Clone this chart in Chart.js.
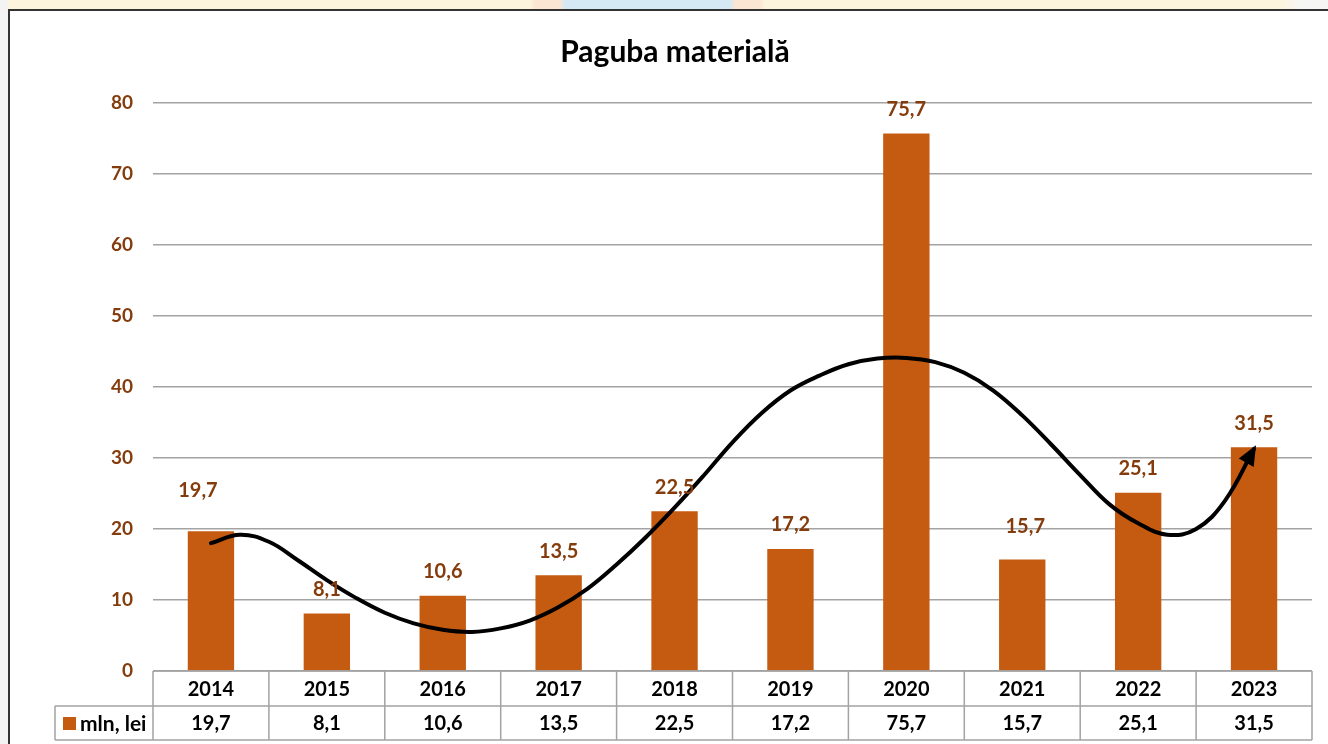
<!DOCTYPE html>
<html>
<head>
<meta charset="utf-8">
<title>Paguba materială</title>
<script src="https://cdn.jsdelivr.net/npm/chart.js@4/dist/chart.umd.min.js"></script>
<style>
  html, body { margin: 0; padding: 0; }
  body {
    width: 1328px; height: 744px; overflow: hidden; position: relative;
    background:
      linear-gradient(to right, #f3f3f3 0, #f3f3f3 8px, transparent 8px),
      linear-gradient(to right, #fcf4dc 0, #fcf4dc 530px, #fbe6d4 535px, #fbe6d4 560px,
        #d5e9f5 565px, #d5e9f5 730px, #fbe6d4 735px, #fbe6d4 760px, #fcf4dc 765px,
        #fcf4dc 1280px, #f6f6f4 1300px);
  }
  .frame {
    position: absolute; left: 8px; top: 9px; width: 1340px; height: 740px;
    border-left: 2px solid #333; border-top: 2px solid #333; background: #fff;
  }
  .box { position: absolute; left: 0; top: 0; width: 1330px; height: 733px; }
</style>
</head>
<body>
<div class="frame"><div class="box"><canvas id="chart"></canvas></div></div>
<script>
// Data
const chartTitle = 'Paguba materială';
const seriesName = 'mln, lei';
const years = ['2014', '2015', '2016', '2017', '2018', '2019', '2020', '2021', '2022', '2023'];
const damage = [19.7, 8.1, 10.6, 13.5, 22.5, 17.2, 75.7, 15.7, 25.1, 31.5];
const yTicks = [0, 10, 20, 30, 40, 50, 60, 70, 80];

// hand drawn trend arrow, read every quarter category (0 = 2014, 9 = 2023)
const trendPos = [
  0, 0.25, 0.5, 0.75, 1, 1.25, 1.5, 1.75, 2, 2.25, 2.5, 2.75, 3, 3.25, 3.5, 3.75,
  4, 4.25, 4.5, 4.75, 5, 5.25, 5.5, 5.75, 6, 6.25, 6.5, 6.75, 7, 7.25, 7.5, 7.75,
  8, 8.25, 8.5, 8.75, 9
];
const trendVal = [
  18.0, 19.2, 18.2, 15.6, 12.8, 10.3, 8.2, 6.7, 5.8, 5.5, 6.0, 7.1, 9.0, 11.6, 15.0, 18.8,
  23.0, 27.5, 32.2, 36.3, 39.5, 41.6, 43.2, 44.0, 44.1, 43.5, 42.0, 39.5, 36.0, 31.9, 27.6, 23.5,
  20.8, 19.2, 20.0, 24.0, 31.3
];

const barColor = '#C55A11';
const labelColor = '#843C0C';
const gridColor = '#a3a3a3';
const font = 'Lato, "Open Sans", sans-serif';

// labels that were moved by hand in the original
const labelNudge = { 0: [-13, -17], 7: [3, -9] };

const fmt = v => v.toFixed(1).replace('.', ',');

const valueLabels = {
  id: 'valueLabels',
  afterDatasetsDraw(chart) {
    const meta = chart.getDatasetMeta(0);
    const ctx = chart.ctx;
    ctx.save();
    ctx.font = 'bold 20px ' + font;
    ctx.fillStyle = labelColor;
    ctx.textAlign = 'center';
    ctx.textBaseline = 'middle';
    meta.data.forEach((bar, i) => {
      const n = labelNudge[i] || [0, 0];
      ctx.fillText(fmt(damage[i]), bar.x + n[0], bar.y - 24 + n[1]);
    });
    ctx.restore();
  }
};

const arrowHead = {
  id: 'arrowHead',
  afterDatasetsDraw(chart) {
    const meta = chart.getDatasetMeta(1);
    const pts = meta.data;
    const p = pts[pts.length - 1];
    let fx = p.cp1x, fy = p.cp1y;
    if (fx === undefined || (Math.abs(fx - p.x) < 0.5 && Math.abs(fy - p.y) < 0.5)) {
      fx = pts[pts.length - 2].x; fy = pts[pts.length - 2].y;
    }
    const a = Math.atan2(p.y - fy, p.x - fx);
    const len = 20, half = 8.5;
    const ctx = chart.ctx;
    ctx.save();
    ctx.translate(p.x, p.y);
    ctx.rotate(a);
    ctx.beginPath();
    ctx.moveTo(4, 0);
    ctx.lineTo(4 - len, -half);
    ctx.lineTo(4 - len, half);
    ctx.closePath();
    ctx.fillStyle = '#000';
    ctx.fill();
    ctx.restore();
  }
};

const dataTable = {
  id: 'dataTable',
  afterDraw(chart) {
    const ctx = chart.ctx;
    const area = chart.chartArea;
    const xs = chart.scales.x;
    const w = (area.right - area.left) / years.length;
    const top = area.bottom, mid = top + 35, bot = top + 69;
    const legLeft = area.left - 98;
    ctx.save();
    ctx.strokeStyle = gridColor;
    ctx.lineWidth = 1.5;
    ctx.beginPath();
    ctx.moveTo(area.left, top); ctx.lineTo(area.right, top);
    ctx.moveTo(legLeft, mid); ctx.lineTo(area.right, mid);
    ctx.moveTo(legLeft, bot); ctx.lineTo(area.right, bot);
    ctx.moveTo(legLeft, mid); ctx.lineTo(legLeft, bot);
    for (let i = 0; i <= years.length; i++) {
      const x = area.left + i * w;
      ctx.moveTo(x, top); ctx.lineTo(x, bot);
    }
    ctx.stroke();

    ctx.font = 'bold 20px ' + font;
    ctx.fillStyle = '#000';
    ctx.textAlign = 'center';
    ctx.textBaseline = 'middle';
    years.forEach((y, i) => {
      const cx = xs.getPixelForValue(i);
      ctx.fillText(y, cx, (top + mid) / 2 + 1);
      ctx.fillText(fmt(damage[i]), cx, (mid + bot) / 2 + 1);
    });

    // legend cell
    ctx.fillStyle = barColor;
    ctx.fillRect(legLeft + 8, mid + 11, 13, 13);
    ctx.fillStyle = '#000';
    ctx.textAlign = 'left';
    ctx.font = 'bold 21px ' + font;
    ctx.fillText(seriesName, legLeft + 25, (mid + bot) / 2 + 1);
    ctx.restore();
  }
};

new Chart(document.getElementById('chart'), {
  data: {
    labels: years,
    datasets: [
      {
        type: 'bar',
        label: seriesName,
        data: damage,
        backgroundColor: barColor,
        grouped: false,
        barPercentage: 0.4,
        categoryPercentage: 1,
        xAxisID: 'x',
        order: 1
      },
      {
        type: 'line',
        label: 'trend',
        data: trendPos.map((p, i) => ({ x: p, y: trendVal[i] })),
        borderColor: '#000',
        borderWidth: 4,
        borderCapStyle: 'round',
        pointRadius: 0,
        fill: false,
        tension: 0.4,
        xAxisID: 'xt',
        order: 0
      }
    ]
  },
  options: {
    responsive: true,
    maintainAspectRatio: false,
    animation: false,
    layout: { padding: { top: 8, right: 28, bottom: 73, left: 28 } },
    plugins: {
      legend: { display: false },
      tooltip: { enabled: false },
      title: {
        display: true,
        text: chartTitle,
        color: '#000',
        font: { family: font, size: 30, weight: 'bold' },
        padding: { top: 15, bottom: 33 }
      }
    },
    scales: {
      x: {
        type: 'category',
        display: false,
        offset: true
      },
      xt: {
        type: 'linear',
        display: false,
        min: -0.5,
        max: years.length - 0.5
      },
      y: {
        min: 0,
        max: 80,
        border: { display: false },
        grid: { color: gridColor, lineWidth: 1.4, drawTicks: false },
        afterBuildTicks: s => { s.ticks = yTicks.map(v => ({ value: v })); },
        afterFit: s => { s.width = 115; },
        ticks: {
          padding: 20,
          color: labelColor,
          font: { family: font, size: 19, weight: 'bold' }
        }
      }
    }
  },
  plugins: [valueLabels, arrowHead, dataTable]
});
</script>
</body>
</html>
